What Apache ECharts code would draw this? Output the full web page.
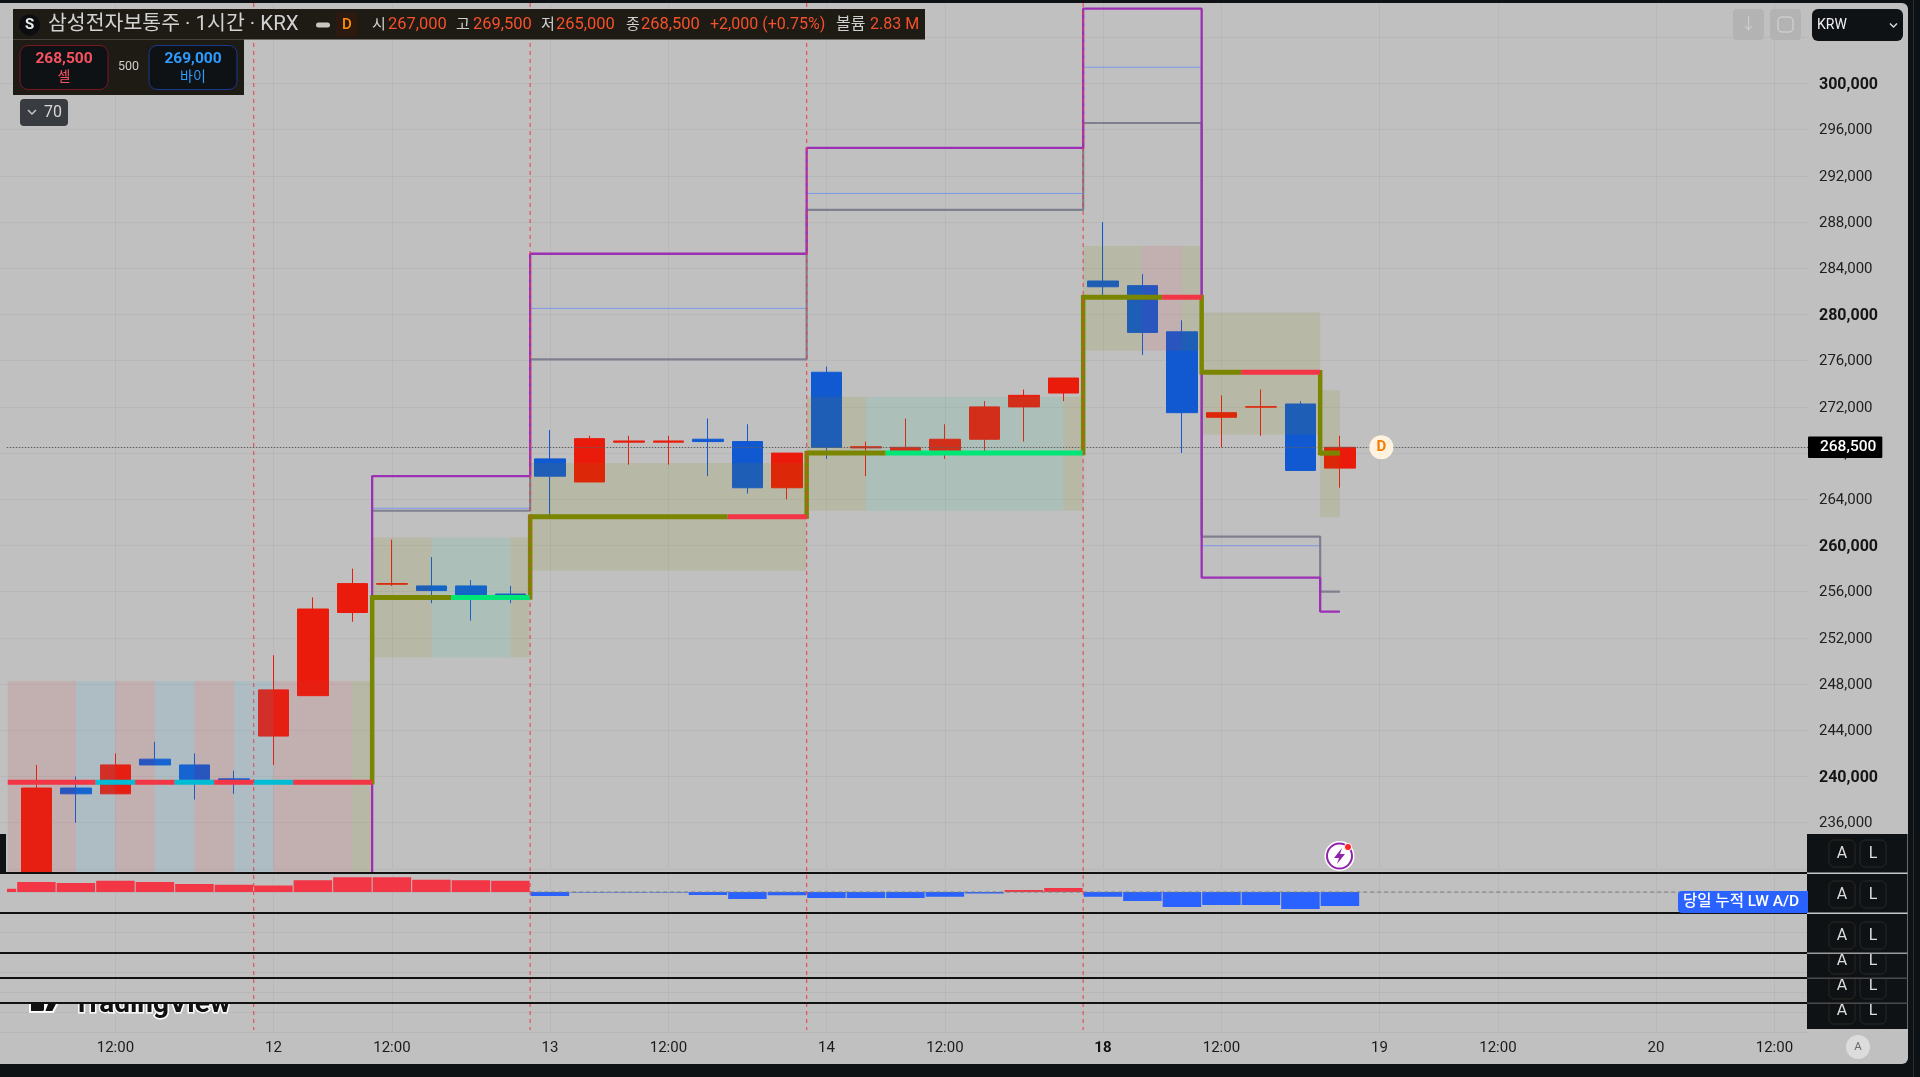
<!DOCTYPE html>
<html><head><meta charset="utf-8">
<style>html,body{margin:0;padding:0;background:#0f1215}#c{width:1920px;height:1077px}</style>
<script src="https://cdn.jsdelivr.net/npm/echarts@6/dist/echarts.min.js"></script>
</head><body><div id="c"></div>
<script>
// ---- price candles (index = hourly bar number) ----
const opens  = [231645,239000,238500,241500,241000,239800,243500,247000,254200,256650,256500,256500,255800,267500,265500,268950,268950,269200,269000,265000,275000,268450,268200,268200,269200,272000,273200,282900,282500,278500,271100,271980,272250,266700];
const closes = [239000,238500,241000,241000,239750,239700,247500,254500,256700,256700,256100,255700,255700,266000,269250,269050,269050,269000,265000,268000,268500,268550,268500,269200,272000,273000,274500,282400,278450,271500,271500,272020,266500,268500];
const lows   = [231645,236000,238500,241000,238000,238500,241000,247000,253400,256500,255000,253500,255000,262500,265500,267000,267000,266000,264500,264000,267500,266000,268200,267500,268000,269000,272500,281500,276500,268000,268500,269500,266500,265000];
const highs  = [241000,240000,242000,243000,242000,240500,250500,255500,258000,260500,259000,257000,256500,270000,269500,269500,269500,271000,270500,268000,275500,269000,271000,270500,272500,273500,274500,288000,283500,279500,273000,273500,272500,269500];
const lastPrice = 268500;
// ---- time axis ----
const tickBars   = [2,6,9,13,16,20,23,27,30,34,37,41,44];
const tickLabels = ['12:00','12','12:00','13','12:00','14','12:00','18','12:00','19','12:00','20','12:00'];
const boldTicks  = ['18'];
const dayBreaks  = [5.5,12.5,19.5,26.5];
// ---- shaded zones: fromBar, toBar, top, bottom, tone ----
const zones = [
 [-0.725,1,248270,231645,'pink'],[1,2,248270,231645,'blue'],[2,3,248270,231645,'pink'],[3,4,248270,231645,'blue'],[4,5,248270,231645,'pink'],[5,6,248270,231645,'blue'],[6,8,248270,231645,'pink'],[8,8.5,248270,231645,'olive'],
 [8.5,10,260700,250300,'olive'],[10,12,260700,250300,'teal'],[12,12.5,260700,250300,'olive'],
 [12.5,19.5,267150,257820,'olive'],
 [19.5,21,272880,263010,'olive'],[21,26,272880,263010,'teal'],[26,26.5,272880,263010,'olive'],
 [26.5,28,285930,276870,'olive'],[28,29,285930,276870,'pink'],[29,29.5,285930,276870,'olive'],
 [29.5,32.5,280180,269600,'olive'],
 [32.5,33,273440,262450,'olive']
];
// ---- level line: fromBar, toBar, price, tone ----
const levelSegs = [
 [-0.725,1.5,239500,'red'],[1.5,2.5,239500,'cyan'],[2.5,3.5,239500,'red'],[3.5,4.5,239500,'cyan'],[4.5,5.5,239500,'red'],[5.5,6.5,239500,'cyan'],[6.5,8.5,239500,'red'],
 [8.5,10.5,255500,'olive'],[10.5,12.5,255500,'green'],
 [12.5,17.5,262500,'olive'],[17.5,19.5,262500,'red'],
 [19.5,21.5,268000,'olive'],[21.5,26.5,268000,'green'],
 [26.5,28.5,281500,'olive'],[28.5,29.5,281500,'red'],
 [29.5,30.5,275000,'olive'],[30.5,32.5,275000,'red'],
 [32.5,33,268000,'olive']
];
const levelRisers = [[8.5,239500,255500],[12.5,255500,262500],[19.5,262500,268000],[26.5,268000,281500],[29.5,281500,275000],[32.5,275000,268000]];
// ---- envelope steps ----
const purpleSteps = [[8.5,231645],[8.5,266000],[12.5,266000],[12.5,285260],[19.5,285260],[19.5,294420],[26.5,294420],[26.5,306480],[29.5,306480],[29.5,257210],[32.5,257210],[32.5,254270],[33,254270]];
const greySteps   = [[8.5,263010],[12.5,263010],[12.5,276120],[19.5,276120],[19.5,289050],[26.5,289050],[26.5,296580],[29.5,296580],[29.5,260770],[32.5,260770],[32.5,256000],[33,256000]];
const midSegs     = [[8.5,12.5,263220],[12.5,19.5,280530],[19.5,26.5,290480],[26.5,29.5,301410],[29.5,32.5,259980]];
// ---- lower pane: 당일 누적 LW A/D ----
const adBars   = [-1,0,1,2,3,4,5,6,7,8,9,10,11,12,13,14,15,16,17,18,19,20,21,22,23,24,25,26,27,28,29,30,31,32,33];
const adValues = [3.3,10,9,11.3,10,8,7.3,6.5,11.7,14.7,14.7,12.3,11.7,11.3,-4,-0.4,-0.4,-0.4,-3,-7,-3.3,-6,-6,-6,-4.7,-1.5,2,4,-4.7,-9,-15,-13,-13,-17,-14];
const paneLines = [19,-21,-61,-86,-111];
// ---- header text ----
const titleText = '삼성전자보통주 · 1시간 · KRX';
const headerPairs = [['시','267,000',372,388],['고','269,500',456,473],['저','265,000',541,556],['종','268,500',626,641]];
const changeText = '+2,000 (+0.75%)';
const volumeText = '2.83 M';

const PANEL='#c0c0c0', DARK='#0f1215', F='Roboto,"Noto Sans CJK KR",sans-serif';
const toneFill={pink:'rgba(210,60,70,0.13)',blue:'rgba(60,170,210,0.14)',olive:'rgba(128,128,0,0.13)',teal:'rgba(40,190,140,0.12)'};
const toneLine={red:'#f23645',cyan:'#00bcd4',green:'#00e676',olive:'#7b8600'};
const numFmt=v=>String(v).replace(/\B(?=(\d{3})+$)/g,',');

function txt(x,y,s,o){o=o||{};return {type:'text',z:o.z==null?100:o.z,silent:true,style:{x:x,y:y,text:s,fill:o.c||'#ddd',font:(o.w||'normal')+' '+(o.s||14)+'px '+F,textAlign:o.a||'left',textVerticalAlign:'middle',stroke:o.st,lineWidth:o.lw||0}};}
function box(x,y,w,h,fill,o){o=o||{};return {type:'rect',z:o.z==null?99:o.z,silent:true,shape:{x:x,y:y,width:w,height:h,r:o.r||0},style:{fill:fill,stroke:o.st||null,lineWidth:o.lw||0}};}

const gfx=[];
// panel and frame
gfx.push(box(0,3,1908,1061,PANEL,{z:-10,r:[0,6,6,0]}));
gfx.push(box(1913,0,1,1077,'#2a2d31',{z:-9}));
// watermark, cut by the pane above it
gfx.push(txt(73,1005,'TradingView',{z:-3,s:28,w:'bold',c:'#111',st:'#fff',lw:3}));
gfx.push({type:'polygon',z:-3,silent:true,shape:{points:[[30,996],[45,996],[45,1012],[30,1012]]},style:{fill:'#111',stroke:'#fff',lineWidth:2}});
gfx.push({type:'polygon',z:-3,silent:true,shape:{points:[[50,996],[61,996],[53,1012],[44,1012]]},style:{fill:'#111',stroke:'#fff',lineWidth:2}});
gfx.push(box(0,975,400,28,PANEL,{z:-2}));
// left tab
gfx.push(box(0,834,6,39,DARK));
gfx.push(box(0,885,7,8,PANEL,{z:60}));
// header
gfx.push(box(13,9,912,30.5,'#1e1a14'));
gfx.push(box(13,39.5,231,55.5,'#1e1a14'));
gfx.push({type:'circle',z:100,silent:true,shape:{cx:29.5,cy:25,r:10.5},style:{fill:'#0b0d10'}});
gfx.push(txt(29.5,25,'S',{a:'center',s:15,w:'bold',c:'#eee'}));
gfx.push(txt(48,25,titleText,{s:20.5,c:'#d2d2d2'}));
gfx.push(box(316,22.5,14,5,'#c8c8c0',{r:2.5,z:100}));
gfx.push(box(336,12,22,25,'#2c1a10',{r:4}));
gfx.push(txt(347,25,'D',{a:'center',s:15,w:'500',c:'#ff8f00'}));
headerPairs.forEach(p=>{gfx.push(txt(p[2],25,p[0],{s:15,c:'#d0d0d0'}));gfx.push(txt(p[3],25,p[1],{s:16.5,c:'#f4512c'}));});
gfx.push(txt(710,25,changeText,{s:16,c:'#f4512c'}));
gfx.push(txt(836,25,'볼륨',{s:16,c:'#d0d0d0'}));
gfx.push(txt(870,25,volumeText,{s:16,c:'#f4512c'}));
gfx.push(box(20,45.5,88,44,'#0f1215',{r:8,st:'#7a1622',lw:1,z:100}));
gfx.push(txt(64,59,'268,500',{a:'center',s:15.5,w:'bold',c:'#f7525f'}));
gfx.push(txt(64,77,'셀',{a:'center',s:14,c:'#f7525f'}));
gfx.push(txt(128.5,67,'500',{a:'center',s:12.5,c:'#cfcfcf'}));
gfx.push(box(149,45.5,88,44,'#0f1215',{r:8,st:'#1a3a8f',lw:1,z:100}));
gfx.push(txt(193,59,'269,000',{a:'center',s:15.5,w:'bold',c:'#2e9bff'}));
gfx.push(txt(193,77,'바이',{a:'center',s:14,c:'#2e9bff'}));
gfx.push(box(20,99,48,27,'#383b3f',{r:4}));
gfx.push({type:'polyline',z:100,silent:true,shape:{points:[[28,110],[32,114],[36,110]]},style:{stroke:'#ccc',lineWidth:1.4,fill:null}});
gfx.push(txt(44,112.5,'70',{s:16,c:'#d8d8d8'}));
// top right buttons
gfx.push(box(1733,9,31,31,'#b3b3b3',{r:4}));
gfx.push(box(1770,9,31,31,'#b3b3b3',{r:4}));
gfx.push(txt(1748.5,25,'↓',{a:'center',s:16,c:'#cdcdcd'}));
gfx.push(box(1778,17,15,15,'rgba(0,0,0,0)',{r:4,st:'#cdcdcd',lw:1.5,z:100}));
gfx.push(box(1812,9,91,32,DARK,{r:6}));
gfx.push(txt(1817,25,'KRW',{s:14,c:'#f0f0f0'}));
gfx.push({type:'polyline',z:100,silent:true,shape:{points:[[1890,23.5],[1893.5,27],[1897,23.5]]},style:{stroke:'#ddd',lineWidth:1.4,fill:null}});
// A/L rows, painted bottom row first so upper rows cut the boxes of lower ones
const rows=[[1003,1029,1011],[978,1003,986],[953,978,961],[913,953,936],[873,913,895],[834,873,854]];
rows.forEach(r=>{
  gfx.push(box(1807,r[0],100.5,r[1]-r[0],DARK,{z:70}));
  gfx.push(box(1829,r[2]-14,26,27,DARK,{z:70,r:5,st:'#2b2723',lw:1}));
  gfx.push(box(1860,r[2]-14,26,27,DARK,{z:70,r:5,st:'#25282b',lw:1}));
  gfx.push(txt(1842,r[2],'A',{a:'center',s:16,c:'#ddd',z:70}));
  gfx.push(txt(1873,r[2],'L',{a:'center',s:16,c:'#ddd',z:70}));
});
[[873,'#c8c8c8'],[913,'#c8c8c8'],[953,'#9a9a9a'],[978,'#4a4a4a'],[1003,'#4a4a4a']].forEach(l=>gfx.push(box(1807,l[0]-0.5,100.5,1.5,l[1],{z:71})));
// LW A/D tag
gfx.push(box(1678,891,130,22,'#2962ff',{r:[4,0,0,4],z:80}));
gfx.push(txt(1683,902,'당일 누적 LW A/D',{s:15.5,w:'500',c:'#fff',z:81}));
// auto badge
gfx.push({type:'circle',z:100,silent:true,shape:{cx:1858,cy:1047,r:12},style:{fill:'#dcdcdc'}});
gfx.push(txt(1858,1047,'A',{a:'center',s:11.5,c:'#6a6a6a'}));
// alert icon
gfx.push({type:'circle',z:100,silent:true,shape:{cx:1339.5,cy:856,r:15},style:{fill:'#fff'}});
gfx.push({type:'circle',z:101,silent:true,shape:{cx:1339.5,cy:856,r:12.5},style:{fill:'#fff',stroke:'#8e24aa',lineWidth:2}});
gfx.push({type:'polygon',z:102,silent:true,shape:{points:[[1342,848],[1334,858],[1339,858],[1337,864],[1345,854],[1340,854]]},style:{fill:'#8e24aa'}});
gfx.push({type:'circle',z:103,silent:true,shape:{cx:1348,cy:847,r:3.6},style:{fill:'#f22',stroke:'#fff',lineWidth:1}});

const candleData=opens.map((o,i)=>[i,o,closes[i],lows[i],highs[i]]);
function segLine(api,x0,y0,x1,y1,style){
  const a=api.coord([x0,y0]),b=api.coord([x1,y1]);
  return {type:'line',shape:{x1:a[0],y1:a[1],x2:b[0],y2:b[1]},style:style};
}
const faint='rgba(0,0,0,0.04)';
const xCommon={type:'value',min:-0.9215,max:44.85,axisLine:{show:false},axisTick:{show:false,customValues:tickBars},splitLine:{show:true,lineStyle:{color:faint,width:1}}};

const chart=echarts.init(document.getElementById('c'),null,{renderer:'canvas'});
chart.setOption({
  animation:false,
  backgroundColor:DARK,
  graphic:{elements:gfx},
  grid:[
    {left:0,top:-8.9,width:1808,height:877.8,outerBoundsMode:'none',containLabel:false},
    {left:0,top:872,width:1808,height:160,outerBoundsMode:'none',containLabel:false}
  ],
  xAxis:[
    Object.assign({},xCommon,{gridIndex:0,axisLabel:{show:false}}),
    Object.assign({},xCommon,{gridIndex:1,axisLabel:{show:true,customValues:tickBars,margin:9,hideOverlap:false,showMinLabel:true,showMaxLabel:true,
      color:'#1b1b1b',fontFamily:F,fontSize:15,
      formatter:v=>{const l=tickLabels[tickBars.indexOf(v)];return boldTicks.indexOf(l)>=0?'{b|'+l+'}':l;},
      rich:{b:{fontWeight:'bold',fontSize:15,color:'#111',fontFamily:F}}}})
  ],
  yAxis:[
    {gridIndex:0,type:'value',position:'right',min:232000,max:308000,interval:4000,axisLine:{show:false},axisTick:{show:false},
     splitLine:{show:true,lineStyle:{color:faint,width:1}},
     axisLabel:{margin:11,showMinLabel:false,showMaxLabel:false,fontFamily:F,fontSize:15,color:'#1e1e1e',align:'left',padding:[2,0,0,0],
       formatter:v=>{if(v>300000||v<236000)return '';const s=numFmt(v);return v%20000===0?'{m|'+s+'}':s;},
       rich:{m:{fontFamily:F,fontSize:16,fontWeight:'bold',color:'#151515'}}}},
    {gridIndex:1,type:'value',min:-140,max:20,interval:20,axisLine:{show:false},axisTick:{show:false},axisLabel:{show:false},
     splitLine:{show:true,lineStyle:{color:faint,width:1}}}
  ],
  series:[
    {type:'candlestick',name:'삼성전자보통주',xAxisIndex:0,yAxisIndex:0,z:2,clip:false,barWidth:31,encode:{x:0,y:[1,2,3,4]},data:candleData,
     itemStyle:{color:'#ea1b0b',color0:'#1159d1',borderColor:'#ea1b0b',borderColor0:'#1159d1',borderWidth:1},
     markLine:{silent:true,symbol:'none',animation:false,z:5,
       data:[[{coord:[-0.75,lastPrice]},{coord:[44.85,lastPrice]}]],
       lineStyle:{color:'#5f5f5f',type:[1.5,1.5],width:1},
       label:{show:true,position:'end',distance:0,formatter:()=>numFmt(lastPrice),color:'#fff',fontFamily:F,fontSize:15.5,fontWeight:'500',backgroundColor:'#000',padding:[3,6,3,12],borderRadius:1}}},
    {type:'custom',name:'zones',xAxisIndex:0,yAxisIndex:0,z:3,silent:true,data:zones,
     renderItem:(p,api)=>{const d=zones[p.dataIndex];const a=api.coord([d[0],d[2]]),b=api.coord([d[1],d[3]]);
       return {type:'rect',shape:{x:a[0],y:a[1],width:b[0]-a[0],height:b[1]-a[1]},style:{fill:toneFill[d[4]]}};}},
    {type:'custom',name:'mid',xAxisIndex:0,yAxisIndex:0,z:4,silent:true,data:midSegs,
     renderItem:(p,api)=>{const d=midSegs[p.dataIndex];return segLine(api,d[0],d[2],d[1],d[2],{stroke:'#7d98e6',lineWidth:1,fill:null});}},
    {type:'line',name:'grey',xAxisIndex:0,yAxisIndex:0,z:4,clip:false,silent:true,symbol:'none',data:greySteps,lineStyle:{color:'#7f808f',width:2.2}},
    {type:'line',name:'purple',xAxisIndex:0,yAxisIndex:0,z:5,clip:false,silent:true,symbol:'none',data:purpleSteps,lineStyle:{color:'#9c2fb5',width:2.3}},
    {type:'custom',name:'risers',xAxisIndex:0,yAxisIndex:0,z:6,silent:true,data:levelRisers,
     renderItem:(p,api)=>{const d=levelRisers[p.dataIndex];return segLine(api,d[0],d[1],d[0],d[2],{stroke:toneLine.olive,lineWidth:4.5,fill:null,lineCap:'square'});}},
    {type:'custom',name:'level',xAxisIndex:0,yAxisIndex:0,z:6,silent:true,data:levelSegs,
     renderItem:(p,api)=>{const d=levelSegs[p.dataIndex];return segLine(api,d[0],d[2],d[1],d[2],{stroke:toneLine[d[3]],lineWidth:5,fill:null});}},
    {type:'custom',name:'days',xAxisIndex:0,yAxisIndex:0,z:7,silent:true,data:dayBreaks,
     renderItem:(p,api)=>segLine(api,dayBreaks[p.dataIndex],306970,dayBreaks[p.dataIndex],218052,{stroke:'rgba(242,54,69,0.75)',lineWidth:1.3,lineDash:[4,4],fill:null})},
    {type:'scatter',name:'D',xAxisIndex:0,yAxisIndex:0,z:8,silent:true,symbolSize:24,data:[[34.05,lastPrice]],itemStyle:{color:'#fff3e0',opacity:1},
     label:{show:true,position:'inside',formatter:'D',color:'#f57c00',fontWeight:'bold',fontSize:15,fontFamily:F}},
    {type:'bar',name:'당일 누적 LW A/D',xAxisIndex:1,yAxisIndex:1,z:3,barWidth:38.5,
     data:adBars.map((b,i)=>({value:[b,adValues[i]],itemStyle:{color:adValues[i]>=0?'#f23645':'#2962ff'}})),
     markLine:{silent:true,symbol:'none',animation:false,z:9,label:{show:false},
       data:paneLines.map(v=>[{coord:[-0.9215,v]},{coord:[44.85,v]}]),
       lineStyle:{color:'#111',width:2,type:'solid'}}},
    {type:'line',name:'zero',xAxisIndex:1,yAxisIndex:1,z:4,silent:true,symbol:'none',data:[[12.5,0],[41.6,0]],lineStyle:{color:'#7c7c7c',width:1,type:[4,3]}}
  ]
});
</script></body></html>
